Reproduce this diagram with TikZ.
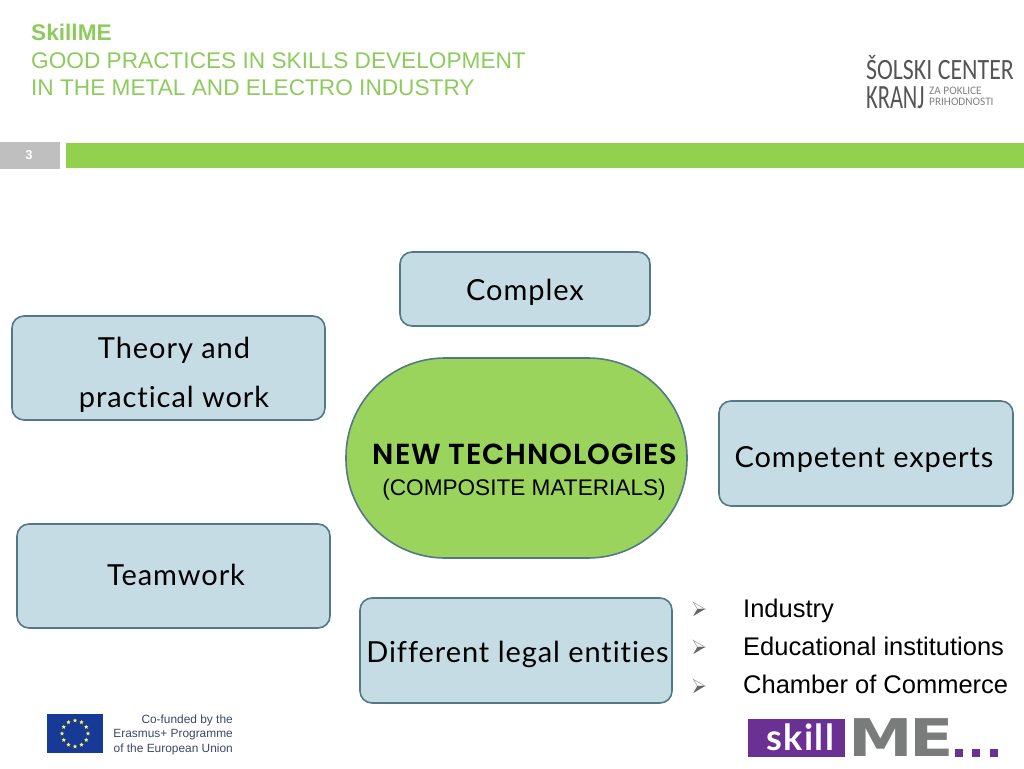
\documentclass[tikz,border=0pt]{standalone}
\usepackage{fontspec}
\usetikzlibrary{shapes.geometric,calc}
\setmainfont{Liberation Sans}
\newfontfamily\boxfont[LetterSpace=3.2,Ligatures={NoCommon}]{Lato}
\newfontfamily\headfont[LetterSpace=3,BoldFont={Poppins SemiBold}]{Poppins}
\newfontfamily\logofont{Carlito}
\newfontfamily\skillfont[LetterSpace=4]{Lato}
\newfontfamily\mefont{DejaVu Sans}
\newcommand{\fsize}[1]{\fontsize{#1}{#1}\selectfont}
\definecolor{slidegreen}{RGB}{146,208,80}
\definecolor{titlegreen}{RGB}{140,203,92}
\definecolor{boxfill}{RGB}{197,220,228}
\definecolor{boxline}{RGB}{82,122,134}
\definecolor{ovalfill}{RGB}{155,212,92}
\definecolor{pagegray}{RGB}{191,191,191}
\definecolor{logogray}{RGB}{85,85,85}
\definecolor{eublue}{RGB}{22,58,150}
\definecolor{eutext}{RGB}{58,72,102}
\definecolor{skillpurple}{RGB}{106,48,147}
\definecolor{megray}{RGB}{122,124,124}
\tikzset{
  infobox/.style={draw=boxline,line width=1.6pt,fill=boxfill,rounded corners=12pt,inner sep=0pt},
  boxtext/.style={inner sep=0pt,font=\boxfont\fsize{29},align=center},
  titleline/.style={right,inner sep=0pt,text=titlegreen,font=\fsize{22.65}},
  listitem/.style={anchor=base west,inner sep=0pt,font=\fsize{25.5}},
  listarrow/.pic={
    \draw [gray!70,fill=white,line width=.6pt] (-11.7,-6.7) -- (0,0) -- (-7.7,0) -- cycle;
    \fill [black!60] (-11.7,7) -- (0,0) -- (-7.7,0) -- cycle;
  },
  eustar/.style={star,star points=5,star point ratio=2.2,fill=yellow!70!white,inner sep=0pt,minimum size=4.5pt},
  euline/.style={left,inner sep=0pt,text=eutext,font=\fsize{11.9}},
  medot/.style={fill=skillpurple,inner sep=0pt,minimum width=8pt,minimum height=8pt}
}
\begin{document}
\begin{tikzpicture}[x=1pt,y=-1pt]
\useasboundingbox (0,0) rectangle (1024,768);
% header
\node [titleline,font=\bfseries\fsize{22.65}] (project) at (31,32.5) {SkillME};
\node [titleline] (titleone) at (31,60.5) {GOOD PRACTICES IN SKILLS DEVELOPMENT};
\node [titleline] (titletwo) at (31,88) {IN THE METAL AND ELECTRO INDUSTRY};
\fill [pagegray] (0,142) rectangle (60,169);
\node [text=white,font=\bfseries\fsize{13}] (pagenum) at (29,155) {3};
\fill [slidegreen] (66,143) rectangle (1024,168);
% school logo
\node [right,inner sep=0pt,text=logogray,font=\logofont\fsize{29.5},xscale=.81] (school) at (866,68) {ŠOLSKI CENTER};
\node [right,inner sep=0pt,text=logogray,font=\logofont\fsize{34},xscale=.66] (kranj) at (866,98) {KRANJ};
\node [right,inner sep=0pt,text=logogray!75,font=\logofont\fsize{11.5},xscale=.98] (zapoklice) at (929,91) {ZA POKLICE};
\node [right,inner sep=0pt,text=logogray!75,font=\logofont\fsize{11.5},xscale=.98] (prihodnosti) at (929,102) {PRIHODNOSTI};
% boxes
\node [infobox,minimum width=250pt,minimum height=74pt] (complex) at (525,289) {};
\node [boxtext] (complextext) at (525,292) {Complex};
\node [infobox,minimum width=313pt,minimum height=104pt] (theory) at (168.5,368) {};
\node [boxtext] (theorytext) at (174,375) {Theory and\\[20pt]practical work};
\node [infobox,minimum width=294pt,minimum height=105pt] (experts) at (866,453.5) {};
\node [boxtext] (expertstext) at (864,459.5) {Competent experts};
\node [infobox,minimum width=313pt,minimum height=104pt] (teamwork) at (173.5,576) {};
\node [boxtext] (teamworktext) at (176,575) {Teamwork};
\node [infobox,minimum width=312pt,minimum height=105pt] (legal) at (516,650.5) {};
\node [boxtext] (legaltext) at (517.5,654.5) {Different legal entities};
% centre
\node [draw=boxline,line width=1.6pt,fill=ovalfill,rounded corners=99pt,minimum width=341pt,minimum height=200pt,inner sep=0pt] (oval) at (516.5,458) {};
\node [inner sep=0pt,font=\headfont\bfseries\fsize{29}] (newtech) at (525,454) {NEW TECHNOLOGIES};
\node [inner sep=0pt,font=\fsize{22.6}] (composite) at (524,489.5) {(COMPOSITE MATERIALS)};
% list
\pic at (705,609) {listarrow};
\pic at (705,647) {listarrow};
\pic at (705,686) {listarrow};
\node [listitem] (industry) at (743,617) {Industry};
\node [listitem] (institutions) at (743,655) {Educational institutions};
\node [listitem] (chamber) at (743,693) {Chamber of Commerce};
% EU flag
\node [fill=eublue,minimum width=56pt,minimum height=39pt,inner sep=0pt] (flag) at (75,733.5) {};
\foreach \a in {0,30,...,330}
  \node [eustar] at ($(flag)+(\a:13)$) {};
\node [euline] (eufunded) at (233,720) {Co-funded by the};
\node [euline] (euprogramme) at (233,734.5) {Erasmus+ Programme};
\node [euline] (euunion) at (233,749) {of the European Union};
% skillME logo
\node [fill=skillpurple,minimum width=97pt,minimum height=38pt,inner sep=0pt] (skill) at (796.5,738) {};
\node [inner sep=0pt,text=white,font=\skillfont\bfseries\fsize{36}] (skilltext) at (800,737) {skill};
\node [inner sep=0pt,text=megray,font=\mefont\bfseries\fsize{52},xscale=1.25] (melogo) at (901,738) {M\kern-3pt E};
\node [medot] (dotone) at (959,753) {};
\node [medot] (dottwo) at (976,753) {};
\node [medot] (dotthree) at (994,753) {};
\end{tikzpicture}
\end{document}
